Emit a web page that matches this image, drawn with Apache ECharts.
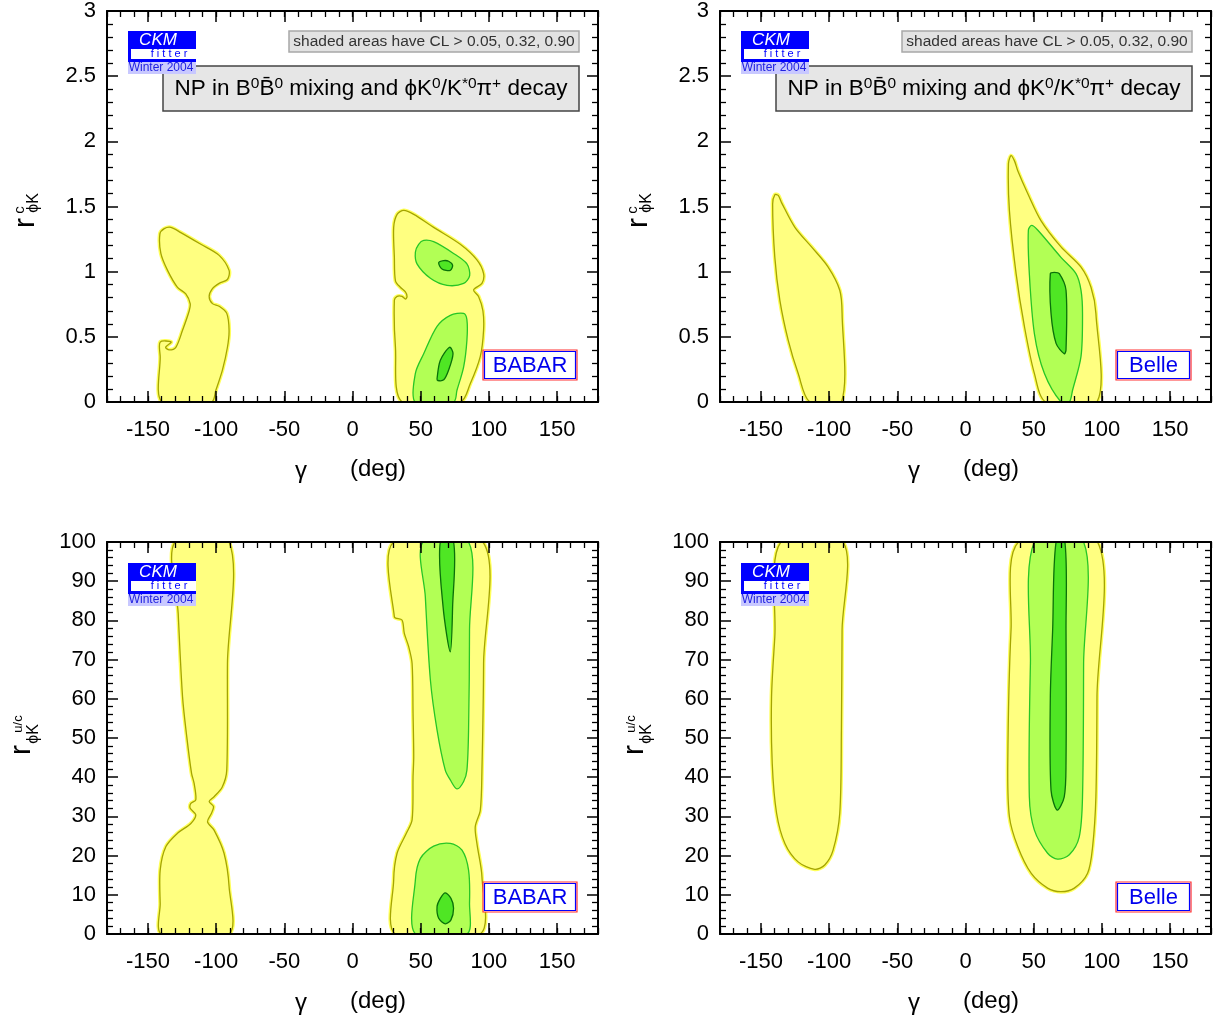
<!DOCTYPE html>
<html><head><meta charset="utf-8">
<script src="https://cdn.jsdelivr.net/npm/echarts@6/dist/echarts.min.js"></script>
<style>html,body{margin:0;padding:0;background:#fff}#c{width:1217px;height:1023px}</style>
</head><body><div id="c"></div><script>
// ---------- tick labels ----------
const gammaTicks = [-150, -100, -50, 0, 50, 100, 150];
const rcTicks = [0, 0.5, 1, 1.5, 2, 2.5, 3];
const rucTicks = [0, 10, 20, 30, 40, 50, 60, 70, 80, 90, 100];

// ---------- contours [gamma(deg), r] ----------
// BABAR, r^c (top-left)
const babarRc_cl05_a = [[-139.7,0],[-141,0.35],[-141,0.46],[-133,0.46],[-137,0.42],[-134.4,0.40],[-129.5,0.42],[-124.6,0.55],[-119.7,0.70],[-119,0.755],[-122.2,0.83],[-128.3,0.88],[-135.6,1.01],[-140.5,1.14],[-141.2,1.29],[-138,1.33],[-133.2,1.34],[-125.9,1.30],[-111.2,1.21],[-97.8,1.125],[-90.5,1.01],[-91.7,0.94],[-97.8,0.91],[-102.7,0.87],[-105.1,0.81],[-102.7,0.755],[-97.8,0.735],[-92.2,0.68],[-90.5,0.55],[-91.7,0.42],[-95.4,0.245],[-100.2,0.09],[-103.4,0]];
const babarRc_cl05_b = [[36.3,0],[31.5,0.42],[30.7,0.78],[32.7,0.81],[36.3,0.81],[38.8,0.79],[40,0.81],[38.8,0.845],[35.1,0.88],[31.5,0.93],[30.7,1.11],[30.2,1.34],[32.7,1.44],[37.6,1.47],[44.9,1.44],[59.5,1.34],[79,1.21],[91.2,1.09],[96.1,0.985],[94.9,0.91],[88.8,0.86],[92.4,0.81],[95.6,0.70],[96.1,0.55],[93.7,0.35],[86.3,0.14],[79,0]];
const babarRc_cl32_a = [[48.5,1.21],[46.1,1.15],[47.3,1.06],[57.1,0.95],[69.3,0.895],[81.5,0.91],[85.9,0.97],[83.9,1.06],[74.1,1.14],[59.5,1.23],[52.2,1.24]];
const babarRc_cl90_a = [[63.2,1.07],[65.6,1.02],[71.7,1.01],[73.4,1.05],[70.5,1.08],[66.9,1.085]];
const babarRc_cl32_b = [[46.1,0],[46.1,0.22],[52.2,0.37],[62,0.58],[71.7,0.665],[81.5,0.68],[83.9,0.63],[83.9,0.475],[81.5,0.27],[76.6,0.09],[74.1,0]];
const babarRc_cl90_b = [[62,0.18],[64.4,0.32],[71.2,0.42],[73.7,0.37],[70.5,0.245],[66.9,0.17],[62.5,0.165]];

// Belle, r^c (top-right)
const belleRc_cl05_a = [[-114.1,0],[-122.7,0.22],[-130,0.475],[-136.1,0.78],[-139.8,1.11],[-141.4,1.52],[-139.8,1.59],[-137.3,1.585],[-134.9,1.53],[-125.1,1.34],[-112.9,1.19],[-100.7,1.035],[-92.2,0.857],[-90.5,0.68],[-91,0]];
const belleRc_cl05_b = [[59,0],[50.5,0.22],[43.2,0.58],[37.1,0.985],[32.2,1.47],[31.5,1.83],[33.4,1.89],[35.9,1.85],[38.3,1.775],[45.6,1.6],[55.4,1.39],[70,1.19],[84.7,1.035],[92,0.88],[95.6,0.68],[96.4,0]];
const belleRc_cl32 = [[70,0],[57.8,0.22],[50.5,0.525],[46.8,0.985],[46.1,1.32],[48.5,1.355],[52.9,1.32],[70,1.11],[81,0.985],[84.7,0.857],[85.8,0.68],[84.7,0.35],[78.5,0.09],[76.1,0]];
const belleRc_cl90 = [[62.2,0.985],[62.7,0.68],[66.4,0.45],[72.4,0.37],[73.7,0.40],[73.7,0.857],[68.8,0.985],[65.1,0.995]];

// BABAR, r^{u/c} (bottom-left)
const babarRuc_cl05_a = [[-140,0],[-141,7.8],[-141,16.3],[-136.8,22.3],[-128.3,25.7],[-118.5,28.2],[-114.9,30.4],[-119,32.1],[-118.5,33.3],[-114.9,34.2],[-116.1,38.4],[-118,41],[-121.5,50.3],[-124.6,60.5],[-127.8,81.8],[-130.2,100],[-90.5,100],[-91.7,69],[-92.2,41.8],[-95.5,37.5],[-101.5,35],[-105.1,33.8],[-101.9,32.5],[-103.4,30.8],[-106.3,28.6],[-101.5,26.5],[-94.2,20.6],[-90.5,12.1],[-90.5,0]];
const babarRuc_cl05_b = [[30.2,100],[30.7,80.9],[36.3,80.1],[38,76.7],[41.2,73.3],[43.7,69],[44.4,56.3],[44.9,45.2],[44.4,40.1],[43.7,29.1],[39.5,25.7],[32.7,20.6],[30.2,13.8],[31.5,0],[93.7,0],[94.9,14.6],[91.2,23.1],[90,27.4],[93.7,31.6],[94.9,41.8],[96.1,69],[95.6,100]];
const babarRuc_cl32_a = [[51.7,100],[53.4,86],[57.1,64.8],[62,52],[68,41.8],[71.7,39.3],[76.6,37],[81.5,38.9],[83.9,41.8],[85.1,52],[85.8,77.6],[85.1,100]];
const babarRuc_cl90_a = [[64.4,100],[66.4,83.5],[71.7,72],[73.4,83.5],[74.1,100]];
const babarRuc_cl32_b = [[46.1,0],[46.1,13.8],[49.8,19.3],[59.5,22.4],[71.7,23.1],[80.3,21.4],[85.1,16.3],[85.8,7.8],[83.9,0]];
const babarRuc_cl90_b = [[62,7],[64.4,9.1],[68,10.5],[72.2,9.1],[74.1,6.6],[72.2,3.6],[68,2.6],[63.2,4]];

// Belle, r^{u/c} (bottom-right)
const belleRuc_cl05_a = [[-135.4,100],[-139.8,75.8],[-142.2,60.5],[-141.7,43.5],[-138.5,30.8],[-132.4,23.1],[-122.7,18.4],[-110.5,16.5],[-103.2,17.6],[-97.1,21.4],[-92.2,30.8],[-91,52],[-90.5,77.6],[-89.8,100]];
const belleRuc_cl05_b = [[38.8,100],[33.4,77.6],[31,43.5],[32.2,29.9],[38.3,22.3],[48.1,15.5],[60.2,11.7],[70,10.8],[79.8,11.7],[89.5,15.5],[93.2,22.3],[95.6,35],[96.4,60.5],[96.8,100]];
const belleRuc_cl32 = [[50.5,100],[47.6,69],[46.8,35],[50.5,26.5],[60.2,20.6],[67.5,19.1],[76.1,20.2],[83.4,24.8],[85.8,35],[86.6,69],[86.6,100]];
const belleRuc_cl90 = [[66.4,100],[63.9,77.6],[62.2,60.5],[62.7,36.7],[67.2,31.6],[72.4,35],[73.7,43.5],[73.7,77.6],[72.9,100]];

// ---------- styling ----------
const FONT = "'Liberation Sans', Arial, sans-serif";
const LEVELS = {
  cl05: {fill:'#ffff80', stroke:'#a5a500', halo:'#ffff5a'},
  cl32: {fill:'#b2ff55', stroke:'#26c626', halo:null},
  cl90: {fill:'#4fe624', stroke:'#0a700a', halo:null}
};
const panels = [
  {left:107, top:10, ymax:3, yint:0.5, exp:'BABAR', regions:[['cl05',babarRc_cl05_a],['cl05',babarRc_cl05_b],['cl32',babarRc_cl32_a],['cl32',babarRc_cl32_b],['cl90',babarRc_cl90_a],['cl90',babarRc_cl90_b]]},
  {left:720, top:10, ymax:3, yint:0.5, exp:'Belle', regions:[['cl05',belleRc_cl05_a],['cl05',belleRc_cl05_b],['cl32',belleRc_cl32],['cl90',belleRc_cl90]]},
  {left:107, top:542, ymax:100, yint:10, exp:'BABAR', regions:[['cl05',babarRuc_cl05_a],['cl05',babarRuc_cl05_b],['cl32',babarRuc_cl32_a],['cl32',babarRuc_cl32_b],['cl90',babarRuc_cl90_a],['cl90',babarRuc_cl90_b]]},
  {left:720, top:542, ymax:100, yint:10, exp:'Belle', regions:[['cl05',belleRuc_cl05_a],['cl05',belleRuc_cl05_b],['cl32',belleRuc_cl32],['cl90',belleRuc_cl90]]}
];

const grid = [], xAxis = [], yAxis = [], series = [], graphic = [];
const lineBlack = {color:'#000', width:2};
const PHI = '\u03d5';
panels.forEach((p, i) => {
  grid.push({left:p.left, top:p.top, width:491, height:392, containLabel:false});
  const majX = (pos, lbl) => ({gridIndex:i, type:'value', min:-180, max:180, position:pos, z:10,
    axisLine:{show:true, onZero:false, lineStyle:lineBlack},
    axisTick:{show:true, inside:true, length:11, customValues:gammaTicks, lineStyle:{color:'#000', width:1.5}},
    axisLabel:{show:lbl, customValues:gammaTicks, fontSize:22, margin:17, color:'#000', fontFamily:FONT},
    splitLine:{show:false}});
  const minX = (pos) => ({gridIndex:i, type:'value', min:-180, max:180, interval:10, position:pos, z:10,
    axisLine:{show:false, onZero:false},
    axisTick:{show:true, inside:true, length:6, lineStyle:{color:'#000', width:1.3}},
    axisLabel:{show:false}, splitLine:{show:false}});
  xAxis.push(majX('bottom', true), minX('bottom'), majX('top', false), minX('top'));
  const yA = (pos, lbl) => ({gridIndex:i, type:'value', min:0, max:p.ymax, interval:p.yint, position:pos, z:10,
    axisLine:{show:true, onZero:false, lineStyle:lineBlack},
    axisTick:{show:true, inside:true, length:11, lineStyle:{color:'#000', width:1.5}},
    minorTick:{show:true, splitNumber:5, length:6, lineStyle:{color:'#000', width:1.3}},
    axisLabel:{show:lbl, fontSize:22, margin:11, color:'#000', fontFamily:FONT},
    splitLine:{show:false}, minorSplitLine:{show:false}});
  yAxis.push(yA('left', true), yA('right', false));
  const order = ['cl05','cl32','cl90'];
  order.forEach((lv, li) => {
    p.regions.filter(r => r[0] === lv).forEach(r => {
      const pts = r[1], st = LEVELS[lv];
      series.push({type:'custom', xAxisIndex:4*i, yAxisIndex:2*i, clip:true, silent:true, z:2+li,
        data: pts, encode:{x:0, y:1},
        renderItem: function(params, api){
          if (params.dataIndex !== 0) return null;
          const poly = pts.map(q => api.coord([q[0], q[1]]));
          const ch = [];
          if (st.halo) ch.push({type:'polygon', shape:{points:poly, smooth:0.3}, style:{fill:'none', stroke:st.halo, lineWidth:4}});
          ch.push({type:'polygon', shape:{points:poly, smooth:0.3}, style:{fill:st.fill, stroke:st.stroke, lineWidth:1.3}});
          return {type:'group', children:ch};
        }});
    });
  });

  // annotations
  const dx = p.left - 107, dy = p.top - 10;
  const T = (text, x, y, size, extra, z) => Object.assign({type:'text', x, y, z:z||100,
    style:Object.assign({text, fontSize:size, fontFamily:FONT, fill:'#000', align:'center', verticalAlign:'middle'}, extra||{})});
  if (i < 2) {
    graphic.push({type:'rect', z:100, shape:{x:289+dx, y:31+dy, width:290, height:21}, style:{fill:'#e2e2e2', stroke:'#a8a8a8', lineWidth:1.5}});
    graphic.push(T('shaded areas have CL > 0.05, 0.32, 0.90', 434+dx, 42+dy, 15.5, {fill:'#333'}));
    graphic.push({type:'rect', z:100, shape:{x:163+dx, y:66+dy, width:416, height:45}, style:{fill:'#e6e6e6', stroke:'#444', lineWidth:1.5}});
    graphic.push(T('{n|NP in B}{s|0}{n|B\u0304}{s|0}{n| mixing and ' + PHI + 'K}{s|0}{n|/K}{s|*0}{n|\u03c0}{s|+}{n| decay}', 371+dx, 89+dy, 23,
      {rich:{n:{fontSize:22.5, fontFamily:FONT, fill:'#000', lineHeight:26}, s:{fontSize:15.5, fontFamily:FONT, fill:'#000', verticalAlign:'top', lineHeight:24}}}));
  }
  // CKMfitter logo (drawn above the title box)
  graphic.push({type:'rect', z:110, shape:{x:128+dx, y:31+dy, width:68, height:31}, style:{fill:'#0000ff'}});
  graphic.push({type:'rect', z:110, shape:{x:131+dx, y:49+dy, width:65, height:10}, style:{fill:'#ffffff'}});
  graphic.push({type:'rect', z:110, shape:{x:128+dx, y:62+dy, width:68, height:12}, style:{fill:'#c8c8ff'}});
  graphic.push(T('CKM', 158+dx, 40+dy, 17, {fill:'#ffffff', fontStyle:'italic'}, 111));
  graphic.push(T('f i t t e r', 169+dx, 54+dy, 11, {fill:'#0000ff'}, 111));
  graphic.push(T('Winter 2004', 161+dx, 68+dy, 12, {fill:'#2020e0'}, 111));
  // experiment box
  const bw = p.exp === 'BABAR' ? 94 : 75;
  const bx = p.exp === 'BABAR' ? 483 + dx : 1116 + (p.left - 720);
  graphic.push({type:'rect', z:100, shape:{x:bx, y:350+dy, width:bw, height:30}, style:{fill:'#fff', stroke:'#ff3030', lineWidth:1.2}});
  graphic.push({type:'rect', z:100, shape:{x:bx+1.5, y:351.5+dy, width:bw-3, height:27}, style:{fill:'none', stroke:'#0000ff', lineWidth:1.2}});
  graphic.push(T(p.exp, bx + bw/2, 366+dy, 22, {fill:'#0000ee'}));
  // axis titles
  graphic.push(T('\u03b3', 301+dx, 471+dy, 24));
  graphic.push(T('(deg)', 378+dx, 469+dy, 24));
  const R = Math.PI/2;
  if (i < 2) {
    graphic.push(Object.assign(T('r', 26+dx, 223, 30), {rotation:R}));
    graphic.push(Object.assign(T('c', 20+dx, 210, 15), {rotation:R}));
    graphic.push(Object.assign(T(PHI + 'K', 34+dx, 203, 16), {rotation:R}));
  } else {
    graphic.push(Object.assign(T('r', 22+dx, 750, 30), {rotation:R}));
    graphic.push(Object.assign(T('u/c', 18+dx, 724, 13), {rotation:R}));
    graphic.push(Object.assign(T(PHI + 'K', 34+dx, 734, 16), {rotation:R}));
  }
});

const chart = echarts.init(document.getElementById('c'), null, {renderer:'canvas'});
chart.setOption({animation:false, backgroundColor:'#fff', grid, xAxis, yAxis, series, graphic});
</script></body></html>
